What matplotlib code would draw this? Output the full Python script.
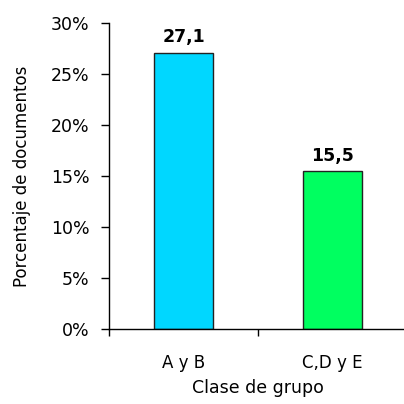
import matplotlib
matplotlib.use('Agg')
import matplotlib.pyplot as plt
from matplotlib.ticker import FuncFormatter, FixedLocator

categories = ["A y B", "C,D y E"]
values = [27.1, 15.5]
bar_colors = ["#00D7FF", "#00FF60"]
y_ticks = [0, 5, 10, 15, 20, 25, 30]

plt.rcParams['font.family'] = ['DejaVu Sans']

fig = plt.figure(figsize=(4.04, 4.04), dpi=100)
ax = fig.add_axes([109 / 404, 1 - 329 / 404, 298 / 404, 306 / 404])

x = list(range(len(categories)))
bars = ax.bar(x, values, width=0.4, color=bar_colors, edgecolor="#222222", linewidth=1)

# etiquetas encima de las barras, con coma decimal
for b, v in zip(bars, values):
    ax.text(b.get_x() + b.get_width() / 2, v + 1.0, f"{v:.1f}".replace('.', ','),
            ha='center', va='baseline', fontsize=12.5, fontweight='bold', color='black')

ax.set_xlim(-0.5, len(categories) - 0.5)
ax.set_ylim(0, 30)
ax.set_yticks(y_ticks)
ax.yaxis.set_major_formatter(FuncFormatter(lambda v, p: f"{v:.0f}%"))

ax.set_xticks(x)
ax.set_xticklabels(categories)
ax.xaxis.set_minor_locator(FixedLocator([i - 0.5 for i in range(len(categories) + 1)]))
ax.tick_params(axis='x', which='major', length=0, pad=18, labelsize=12)
ax.tick_params(axis='x', which='minor', length=5, direction='out', width=1)
ax.tick_params(axis='y', length=6, direction='out', width=1, labelsize=12.5, pad=8)

for s in ['top', 'right']:
    ax.spines[s].set_visible(False)
ax.spines['left'].set_linewidth(1)
ax.spines['bottom'].set_linewidth(1)

ax.set_ylabel("Porcentaje de documentos", fontsize=12, labelpad=14)
ax.set_xlabel("Clase de grupo", fontsize=12.5, labelpad=5)

plt.savefig("out.png", dpi=100)
plt.close(fig)
